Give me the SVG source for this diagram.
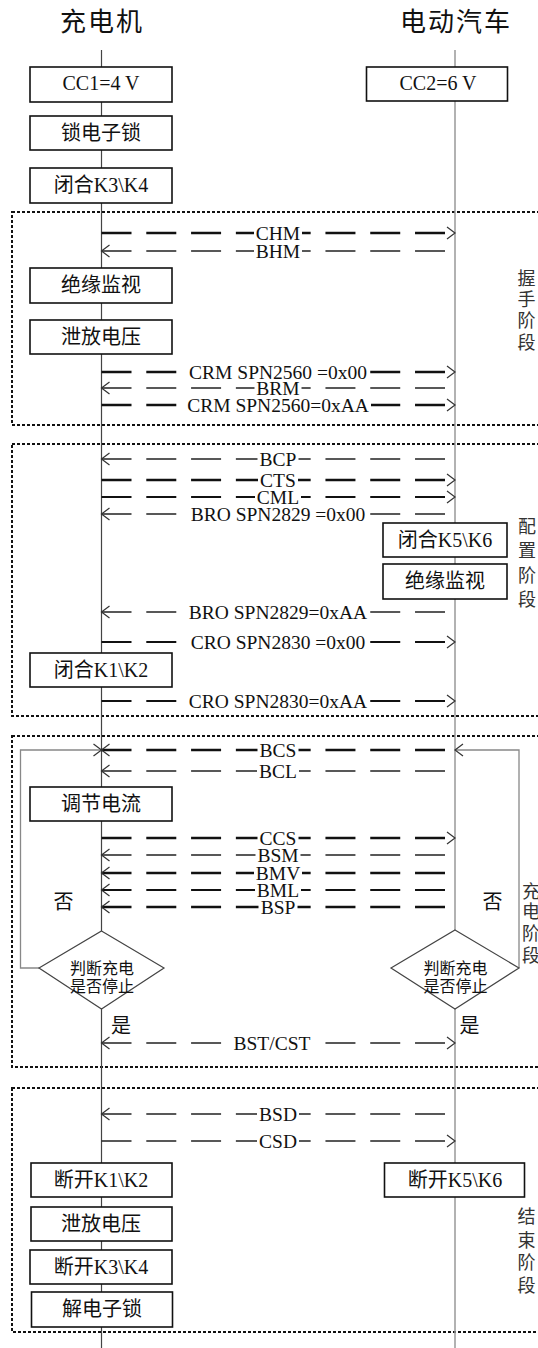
<svg xmlns="http://www.w3.org/2000/svg" width="538" height="1348" viewBox="0 0 538 1348">
<style>
.t{font-family:"Liberation Serif","Noto Sans CJK SC",serif;fill:#111}
.title{font-size:26px;text-anchor:middle;letter-spacing:2px}
.bx{fill:#fff;stroke:#111;stroke-width:1.6}
.bt{font-size:20px;text-anchor:middle}
.lbl{font-size:19.5px;text-anchor:middle}
.bg{fill:#fff}
.msg{fill:none;stroke:#111;stroke-dasharray:30 14.79}
.k{stroke-width:2.6}
.m{stroke-width:2}
.n{stroke-width:1.4;stroke:#222}
.ah{fill:none;stroke:#333;stroke-width:1.2}
.phase{fill:none;stroke:#111;stroke-width:2;stroke-dasharray:3 2}
.pl{font-size:18px;text-anchor:middle;fill:#333}
.loop{fill:none;stroke:#888;stroke-width:1.3}
.dia{fill:#fff;stroke:#444;stroke-width:1.2}
.dt{font-size:16px;text-anchor:middle}
.yn{font-size:20px;text-anchor:middle}
</style>
<defs>
<path id="ar" class="ah" d="M-8,-6L0,0L-8,6"/>
<path id="al" class="ah" d="M8,-6L0,0L8,6"/>
</defs>
<rect width="538" height="1348" fill="#fff"/>

<g id="phases">
<rect class="phase" x="12" y="212" width="540" height="213"/>
<rect class="phase" x="12" y="444" width="540" height="272"/>
<rect class="phase" x="12" y="736" width="540" height="331"/>
<rect class="phase" x="12" y="1088" width="540" height="244"/>
<text class="t pl" x="526.5"><tspan x="526.5" y="285">握</tspan><tspan x="526.5" y="306">手</tspan><tspan x="526.5" y="327">阶</tspan><tspan x="526.5" y="349">段</tspan></text>
<text class="t pl" x="527"><tspan x="527" y="532.5">配</tspan><tspan x="527" y="556.5">置</tspan><tspan x="527" y="581.5">阶</tspan><tspan x="527" y="606">段</tspan></text>
<text class="t pl" x="531"><tspan x="531" y="897.5">充</tspan><tspan x="531" y="918">电</tspan><tspan x="531" y="940">阶</tspan><tspan x="531" y="961.5">段</tspan></text>
<text class="t pl" x="526.5"><tspan x="526.5" y="1223">结</tspan><tspan x="526.5" y="1246.5">束</tspan><tspan x="526.5" y="1269">阶</tspan><tspan x="526.5" y="1291.5">段</tspan></text>
</g>

<g id="lifelines">
<text class="t title" x="102" y="31">充电机</text>
<text class="t title" x="456" y="31">电动汽车</text>
<line x1="101.5" y1="50" x2="101.5" y2="1348" stroke="#444" stroke-width="1.2"/>
<line x1="455" y1="50" x2="455" y2="1348" stroke="#999" stroke-width="1.5"/>
</g>

<g id="connectors">
<path class="loop" d="M39,968H20.5V750H101.5"/>
<use href="#ar" x="101.5" y="750"/>
<path class="loop" d="M519,968V750H455"/>
<use href="#al" x="455" y="750"/>

<path class="msg k" d="M101.5,233H445"/><use href="#ar" x="455" y="233"/><rect class="bg" x="254" y="225" width="48" height="16"/><text class="t lbl" x="278" y="240">CHM</text>
<path class="msg n" d="M101.5,251H445"/><use href="#al" x="101.5" y="251"/><rect class="bg" x="254" y="243" width="48" height="16"/><text class="t lbl" x="278" y="258">BHM</text>
<path class="msg k" d="M101.5,372H445"/><use href="#ar" x="455" y="372"/><rect class="bg" x="187" y="364" width="182" height="16"/><text class="t lbl" x="278" y="379">CRM SPN2560 =0x00</text>
<path class="msg n" d="M101.5,388H445"/><use href="#al" x="101.5" y="388"/><rect class="bg" x="254.5" y="380" width="47" height="16"/><text class="t lbl" x="278" y="395">BRM</text>
<path class="msg k" d="M101.5,405H445"/><use href="#ar" x="455" y="405"/><rect class="bg" x="185" y="397" width="186" height="16"/><text class="t lbl" x="278" y="412">CRM SPN2560=0xAA</text>

<path class="msg n" d="M101.5,459H445"/><use href="#al" x="101.5" y="459"/><rect class="bg" x="257.5" y="451" width="41" height="16"/><text class="t lbl" x="278" y="466">BCP</text>
<path class="msg k" d="M101.5,480H445"/><use href="#ar" x="455" y="480"/><rect class="bg" x="258" y="472" width="40" height="16"/><text class="t lbl" x="278" y="487">CTS</text>
<path class="msg m" d="M101.5,497H445"/><use href="#ar" x="455" y="497"/><rect class="bg" x="255" y="489" width="46" height="16"/><text class="t lbl" x="278" y="504">CML</text>
<path class="msg n" d="M101.5,514H445"/><use href="#al" x="101.5" y="514"/><rect class="bg" x="189" y="506" width="178" height="16"/><text class="t lbl" x="278" y="521">BRO SPN2829 =0x00</text>
<path class="msg n" d="M101.5,612H445"/><use href="#al" x="101.5" y="612"/><rect class="bg" x="186" y="604" width="184" height="16"/><text class="t lbl" x="278" y="619">BRO SPN2829=0xAA</text>
<path class="msg m" d="M101.5,642H445"/><use href="#ar" x="455" y="642"/><rect class="bg" x="189" y="634" width="178" height="16"/><text class="t lbl" x="278" y="649">CRO SPN2830 =0x00</text>
<path class="msg m" d="M101.5,701H445"/><use href="#ar" x="455" y="701"/><rect class="bg" x="186" y="693" width="184" height="16"/><text class="t lbl" x="278" y="708">CRO SPN2830=0xAA</text>

<path class="msg k" d="M101.5,750H445"/><use href="#al" x="101.5" y="750"/><rect class="bg" x="257.5" y="742" width="41" height="16"/><text class="t lbl" x="278" y="757">BCS</text>
<path class="msg n" d="M101.5,771H445"/><use href="#al" x="101.5" y="771"/><rect class="bg" x="257" y="763" width="42" height="16"/><text class="t lbl" x="278" y="778">BCL</text>
<path class="msg k" d="M101.5,838H445"/><use href="#ar" x="455" y="838"/><rect class="bg" x="257.5" y="830" width="41" height="16"/><text class="t lbl" x="278" y="845">CCS</text>
<path class="msg n" d="M101.5,855H445"/><use href="#al" x="101.5" y="855"/><rect class="bg" x="255.5" y="847" width="45" height="16"/><text class="t lbl" x="278" y="862">BSM</text>
<path class="msg k" d="M101.5,873H445"/><use href="#al" x="101.5" y="873"/><rect class="bg" x="254" y="865" width="48" height="16"/><text class="t lbl" x="278" y="880">BMV</text>
<path class="msg m" d="M101.5,890H445"/><use href="#al" x="101.5" y="890"/><rect class="bg" x="255" y="882" width="46" height="16"/><text class="t lbl" x="278" y="897">BML</text>
<path class="msg k" d="M101.5,907H445"/><use href="#al" x="101.5" y="907"/><rect class="bg" x="258.5" y="899" width="39" height="16"/><text class="t lbl" x="278" y="914">BSP</text>
<path class="msg n" d="M101.5,1043H445"/><use href="#al" x="101.5" y="1043"/><use href="#ar" x="455" y="1043"/><rect class="bg" x="231.5" y="1035" width="81" height="16"/><text class="t lbl" x="272" y="1050">BST/CST</text>

<path class="msg n" d="M101.5,1114H445"/><use href="#al" x="101.5" y="1114"/><rect class="bg" x="257" y="1106" width="42" height="16"/><text class="t lbl" x="278" y="1121">BSD</text>
<path class="msg n" d="M101.5,1141H445"/><use href="#ar" x="455" y="1141"/><rect class="bg" x="257" y="1133" width="42" height="16"/><text class="t lbl" x="278" y="1148">CSD</text>
</g>

<g id="n-cc1"><rect class="bx" x="30" y="67" width="142" height="35"/><text class="t bt" x="101" y="90">CC1=4 V</text></g>
<g id="n-cc2"><rect class="bx" x="366.5" y="67" width="141" height="34"/><text class="t bt" x="438" y="90">CC2=6 V</text></g>
<g id="n-lock"><rect class="bx" x="30" y="116" width="142" height="34"/><text class="t bt" x="101" y="140">锁电子锁</text></g>
<g id="n-k34"><rect class="bx" x="30" y="168" width="142" height="35"/><text class="t bt" x="101" y="192">闭合K3\K4</text></g>
<g id="n-ins1"><rect class="bx" x="30" y="268" width="142" height="35"/><text class="t bt" x="101" y="292">绝缘监视</text></g>
<g id="n-disch1"><rect class="bx" x="30" y="320" width="142" height="34"/><text class="t bt" x="101" y="344">泄放电压</text></g>
<g id="n-k56"><rect class="bx" x="383" y="523" width="124" height="34"/><text class="t bt" x="445" y="547">闭合K5\K6</text></g>
<g id="n-ins2"><rect class="bx" x="383" y="564" width="124" height="35"/><text class="t bt" x="445" y="588">绝缘监视</text></g>
<g id="n-k12"><rect class="bx" x="30" y="653" width="142" height="34"/><text class="t bt" x="101" y="677">闭合K1\K2</text></g>
<g id="n-adj"><rect class="bx" x="30" y="787" width="142" height="34"/><text class="t bt" x="101" y="811">调节电流</text></g>
<g id="n-judge1"><polygon class="dia" points="101.5,931 164,968 101.5,1009 39,968"/><text class="t dt" x="102" y="974">判断充电</text><text class="t dt" x="102" y="992">是否停止</text></g>
<g id="n-judge2"><polygon class="dia" points="455,930 519,968 455,1009 391,968"/><text class="t dt" x="455.5" y="974">判断充电</text><text class="t dt" x="455.5" y="992">是否停止</text></g>
<g id="loop-labels">
<text class="t yn" x="63.5" y="909">否</text>
<text class="t yn" x="492.5" y="909">否</text>
<text class="t yn" x="121" y="1033">是</text>
<text class="t yn" x="469.5" y="1033">是</text>
</g>
<g id="n-open12"><rect class="bx" x="31" y="1163" width="141" height="34"/><text class="t bt" x="101" y="1187">断开K1\K2</text></g>
<g id="n-open56"><rect class="bx" x="384.5" y="1163" width="140" height="34"/><text class="t bt" x="455" y="1187">断开K5\K6</text></g>
<g id="n-disch2"><rect class="bx" x="31" y="1207" width="141" height="34"/><text class="t bt" x="101" y="1231">泄放电压</text></g>
<g id="n-open34"><rect class="bx" x="30" y="1250" width="142" height="34"/><text class="t bt" x="101" y="1274">断开K3\K4</text></g>
<g id="n-unlock"><rect class="bx" x="31.5" y="1292" width="141" height="35"/><text class="t bt" x="102" y="1316">解电子锁</text></g>
</svg>
